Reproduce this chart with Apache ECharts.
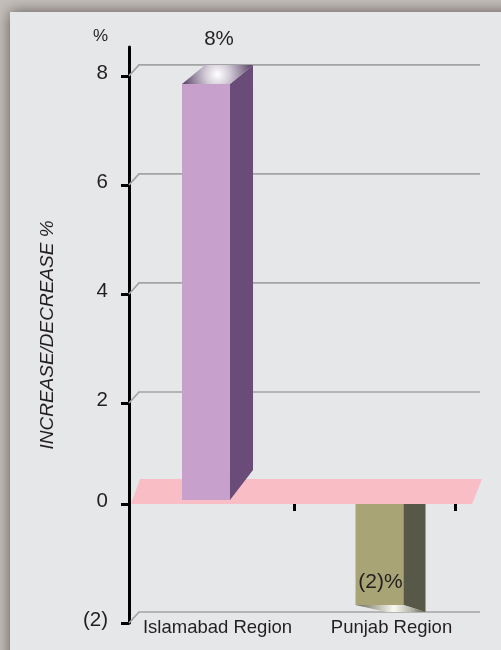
<!DOCTYPE html>
<html><head><meta charset="utf-8">
<style>html,body{margin:0;padding:0;background:#c4bfbb}#c{width:501px;height:650px}</style>
<script src="https://cdn.jsdelivr.net/npm/echarts@6/dist/echarts.min.js"></script>
</head><body><div id="c"></div>
<script>
const categories = ['Islamabad Region', 'Punjab Region'];
const values = [8, -2];
const yTicks = [8, 6, 4, 2, 0, -2];
const wallLines = [8, 6, 4, 2, -2];
const xTicks = [1, 2];

const FONT = '"Liberation Sans", Arial, sans-serif';
const INK = '#231f20';
const fmt = v => v < 0 ? '(' + (-v) + ')' : String(v);
const chart = echarts.init(document.getElementById('c'), null, {renderer: 'canvas'});

// The source chart's value scale is not evenly spaced; three stacked grids reproduce it.
const axisIdx = v => v >= 2 ? 0 : (v >= 0 ? 1 : 2);
const py = v => chart.convertToPixel({yAxisIndex: axisIdx(v)}, v);
const px = x => chart.convertToPixel({xAxisIndex: 2}, x);

function yAxis(gridIndex, min, max, ticks) {
  return {
    type: 'value', gridIndex, min, max, position: 'left',
    splitLine: {show: false},
    axisLine: {show: true, onZero: false, lineStyle: {color: '#000', width: 3}},
    axisTick: {show: true, length: 8, customValues: ticks, lineStyle: {color: '#000', width: 3}},
    axisLabel: {show: true, customValues: ticks, formatter: fmt, margin: 21, color: INK,
      fontFamily: FONT, fontSize: 20.5, verticalAlign: 'bottom', lineHeight: 6}
  };
}
function xAxis(gridIndex, show) {
  return {
    type: 'value', gridIndex, min: -0.025, max: 2, show, position: 'top',
    splitLine: {show: false},
    axisLine: {show: false, onZero: false},
    axisLabel: {show: false},
    axisTick: {show, inside: true, length: 7, customValues: xTicks, lineStyle: {color: '#000', width: 3}}
  };
}

const wallSeries = {
  type: 'custom', xAxisIndex: 2, yAxisIndex: 2, z: 1, silent: true,
  data: wallLines.map(v => [v]),
  renderItem(params, api) {
    const y = py(api.value(0));
    return {type: 'polyline', shape: {points: [[129, y], [139, y - 11], [480, y - 11]]},
      style: {stroke: '#a4a4a4', lineWidth: 1.7, fill: null}};
  }
};
const planeSeries = {
  type: 'custom', xAxisIndex: 2, yAxisIndex: 2, z: 2, silent: true,
  data: [[0]],
  renderItem(params, api) {
    const y = py(api.value(0));
    return {type: 'polygon', shape: {points: [[131, y], [472, y], [482, y - 25], [140, y - 25]]},
      style: {fill: '#f9bdc6'}};
  }
};
const barSeries = {
  type: 'custom', xAxisIndex: 2, yAxisIndex: 2, z: 3, silent: true,
  data: values.map((v, i) => [i + 0.5, v, i]),
  renderItem(params, api) {
    const i = api.value(2), v = api.value(1);
    const c = px(api.value(0)) + (i === 0 ? -7.5 : 5);
    const l = c - 24, r = c + 24, d = 23;
    const y0 = py(0), yv = py(v);
    if (v >= 0) {
      const top = yv + 8, bot = y0 - 4;
      return {type: 'group', children: [
        {type: 'polygon', shape: {points: [[l, bot], [r, bot], [r, top], [l, top]]}, style: {fill: '#c7a0cc'}},
        {type: 'polygon', shape: {points: [[r, top], [r + d, top - 19], [r + d, bot - 30], [r, bot]]}, style: {fill: '#6a4c78'}},
        {type: 'polygon', shape: {points: [[l, top], [l + d, top - 19], [r + d, top - 19], [r, top]]},
          style: {fill: new echarts.graphic.RadialGradient(0.5, 0.5, 1.8, [
            {offset: 0, color: '#ffffff'}, {offset: 0.35, color: '#d4cdd8'},
            {offset: 0.75, color: '#8f7f99'}, {offset: 1, color: '#5f4a6b'}])}},
        {type: 'text', style: {text: fmt(v) + '%', x: 219, y: top - 45, align: 'center', verticalAlign: 'middle',
          font: '20.5px ' + FONT, fill: INK}}
      ]};
    }
    const bot = yv - 18;
    return {type: 'group', children: [
      {type: 'polygon', shape: {points: [[l, y0], [r, y0], [r, bot], [l, bot]]}, style: {fill: '#a9a476'}},
      {type: 'polygon', shape: {points: [[r, y0], [r + 22, y0], [r + 22, bot + 7], [r, bot]]}, style: {fill: '#585848'}},
      {type: 'polygon', shape: {points: [[l, bot], [r, bot], [r + 22, bot + 7], [l + 31, bot + 7]]},
        style: {fill: new echarts.graphic.LinearGradient(0, 0, 1, 0, [
          {offset: 0, color: '#66665a'}, {offset: 0.3, color: '#b8b8a8'}, {offset: 0.55, color: '#fafaf4'},
          {offset: 0.8, color: '#b5b5a8'}, {offset: 1, color: '#5c5c4c'}])}},
      {type: 'text', style: {text: fmt(v) + '%', x: c + 1, y: bot - 23, align: 'center', verticalAlign: 'middle',
        font: '21px ' + FONT, fill: INK}}
    ]};
  }
};
const labelSeries = {
  type: 'custom', xAxisIndex: 2, yAxisIndex: 2, z: 4, silent: true,
  data: categories.map((n, i) => [i + 0.5, i]),
  renderItem(params, api) {
    const i = api.value(1);
    return {type: 'text', style: {text: categories[i], x: px(api.value(0)) + (i === 0 ? 4 : 17), y: 628,
      align: 'center', verticalAlign: 'middle', font: '18.5px ' + FONT, fill: INK}};
  }
};

chart.setOption({
  animation: false,
  backgroundColor: 'transparent',
  graphic: [
    {type: 'rect', z: -10, shape: {x: 10, y: 12, width: 520, height: 680},
      style: {fill: '#e6e7e9', shadowBlur: 14, shadowColor: '#5e5650', shadowOffsetX: 0, shadowOffsetY: 0}},
    {type: 'text', z: 10, style: {text: '%', x: 100.5, y: 36, align: 'center', verticalAlign: 'middle', font: '17px ' + FONT, fill: INK}},
    {type: 'text', z: 10, rotation: Math.PI / 2, x: 48, y: 335,
      style: {text: 'INCREASE/DECREASE %', align: 'center', verticalAlign: 'middle', font: 'italic 19px ' + FONT, fill: INK}}
  ],
  grid: [
    {left: 129, width: 326, top: 47, height: 356},
    {left: 129, width: 326, top: 403, height: 101},
    {left: 129, width: 326, top: 504, height: 119}
  ],
  xAxis: [xAxis(0, false), xAxis(1, false), xAxis(2, true)],
  yAxis: [
    yAxis(0, 2, 8.53, yTicks.filter(v => v >= 2)),
    yAxis(1, 0, 2, [0]),
    yAxis(2, -2, 0, [-2])
  ],
  series: [wallSeries, planeSeries, barSeries, labelSeries]
});
</script></body></html>
